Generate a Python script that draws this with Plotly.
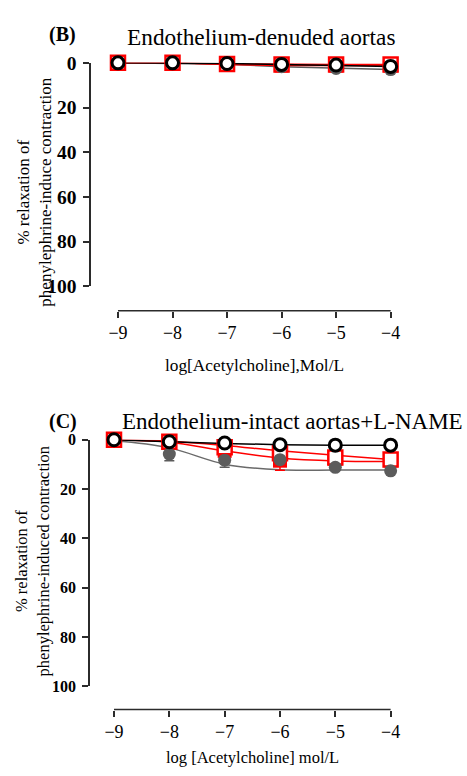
import plotly.graph_objects as go

# Acetylcholine concentrations (log mol/L)
conc = [-9, -8, -7, -6, -5, -4]
x_tick_vals = [-9, -8, -7, -6, -5, -4]
x_tick_text = ["\u22129", "\u22128", "\u22127", "\u22126", "\u22125", "\u22124"]
y_tick_vals = [0, 20, 40, 60, 80, 100]
y_tick_text = ["0", "20", "40", "60", "80", "100"]

# Panel B: endothelium-denuded aortas (% relaxation)
b_open_circle = [0, 0, 0.3, 0.7, 1.0, 1.6]
b_gray_circle = [0, 0.2, 0.6, 1.7, 2.5, 3.0]
b_red_open = [0, 0, 0.5, 0.8, 0.8, 0.8]
b_red_filled = [0, 0, 0.8, 1.2, 1.2, 1.2]

# Panel C: endothelium-intact aortas + L-NAME (% relaxation)
c_open_circle = [0, 0.8, 1.3, 2.0, 2.2, 2.2]
c_gray_circle = [0, 5.8, 8.3, 8.1, 11.2, 12.6]
c_gray_err = [0, 2.7, 2.9, 0, 0, 0]
c_red_open = [0, 0.8, 3.0, 5.5, 7.2, 8.0]
c_red_filled = [0, 1.2, 4.5, 8.5, 7.8, 8.4]
c_red_filled_err = [0, 0, 0, 3.9, 0, 0]

# Panel C: fitted concentration-response curves at each concentration
c_fit_open_circle = [0, 0.8, 1.5, 2.0, 2.2, 2.2]
c_fit_gray = [0.3, 3.3, 9.9, 12.2, 12.3, 12.3]
c_fit_red_open = [0, 0.6, 2.3, 4.5, 6.3, 8.0]
c_fit_red_filled = [0, 1.0, 4.5, 7.4, 8.6, 8.8]

W, H = 467, 776
SERIF = "Liberation Serif"
RED = "#ff0000"
GRAY = "#5c5c5c"
AXIS = "#2b2b2b"


def py(px):
    return 1 - px / H


def px_x(px):
    return px / W


fig = go.Figure()


def markers(xa, ya, y, symbol, fill, line_color, line_width, size, err=None, err_color=None):
    kw = {}
    if err is not None:
        kw["error_y"] = dict(type="data", symmetric=False, array=err,
                             arrayminus=[0] * len(err), color=err_color,
                             thickness=1.5, width=5)
    fig.add_trace(go.Scatter(
        x=conc, y=y, xaxis=xa, yaxis=ya, mode="markers", cliponaxis=False,
        marker=dict(symbol=symbol, size=size, color=fill,
                    line=dict(color=line_color, width=line_width)),
        showlegend=False, hoverinfo="skip", **kw))


def curve(xa, ya, y, color, shape="linear", width=1.5):
    fig.add_trace(go.Scatter(
        x=conc, y=y, xaxis=xa, yaxis=ya, mode="lines", cliponaxis=False,
        line=dict(color=color, width=width, shape=shape),
        showlegend=False, hoverinfo="skip"))


# ---- Panel B ----
curve("x", "y", b_gray_circle, GRAY)
curve("x", "y", b_red_filled, RED)
curve("x", "y", b_red_open, RED)
curve("x", "y", b_open_circle, "black")
markers("x", "y", b_red_filled, "square", RED, RED, 0, 14)
markers("x", "y", b_red_open, "square", "white", RED, 2.5, 14)
markers("x", "y", b_gray_circle, "circle", GRAY, GRAY, 0, 13)
markers("x", "y", b_open_circle, "circle", "white", "black", 3, 12)

# ---- Panel C ----
curve("x2", "y2", c_fit_gray, "#6a6a6a", "spline")
curve("x2", "y2", c_fit_red_filled, RED, "spline")
curve("x2", "y2", c_fit_red_open, RED, "spline")
curve("x2", "y2", c_fit_open_circle, "black", "spline")
markers("x2", "y2", c_red_filled, "square", RED, RED, 0, 14, c_red_filled_err, RED)
markers("x2", "y2", c_red_open, "square", "white", RED, 2.5, 14)
markers("x2", "y2", c_gray_circle, "circle", GRAY, GRAY, 0, 13, c_gray_err, GRAY)
markers("x2", "y2", c_open_circle, "circle", "white", "black", 3, 12)


def yaxis_cfg(top_px, bottom_px, size):
    return dict(
        domain=[py(bottom_px), py(top_px)], range=[100, 0], autorange=False,
        tickvals=y_tick_vals, ticktext=y_tick_text, ticks="outside",
        ticklen=6, tickwidth=1.5, tickcolor=AXIS, showline=True,
        linecolor=AXIS, linewidth=1.5, showgrid=False, zeroline=False,
        ticklabelstandoff=3,
        tickfont=dict(family=SERIF, size=size, color="black", weight="bold"),
    )


def xaxis_cfg(left_px, right_px, x9_px, x4_px, axis_y_px):
    unit = (x4_px - x9_px) / 5.0
    lo = -9 - (x9_px - left_px) / unit
    hi = -4 + (right_px - x4_px) / unit
    return dict(
        domain=[px_x(left_px), px_x(right_px)], range=[lo, hi], autorange=False,
        anchor="free", position=py(axis_y_px),
        tickvals=x_tick_vals, ticktext=x_tick_text, ticks="outside",
        ticklen=6, tickwidth=1.5, tickcolor=AXIS, showline=False,
        showgrid=False, zeroline=False,
        tickfont=dict(family=SERIF, size=18, color="black"),
    )


fig.update_layout(
    width=W, height=H, margin=dict(l=0, r=0, t=0, b=0),
    paper_bgcolor="white", plot_bgcolor="white",
    xaxis=xaxis_cfg(92, 400, 119, 394, 309),
    yaxis=yaxis_cfg(54.3, 284, 19.5),
    xaxis2=xaxis_cfg(90.7, 400, 115, 394, 719),
    yaxis2=yaxis_cfg(441.7, 695, 16),
)
fig.layout.yaxis.anchor = "x"
fig.layout.yaxis2.anchor = "x2"

# x-axis baselines spanning -9 to -4
for xref, ypx in (("x", 309), ("x2", 719)):
    fig.add_shape(type="line", xref=xref, yref="paper", x0=-9, x1=-4,
                  y0=py(ypx), y1=py(ypx), line=dict(color=AXIS, width=1.5))


def text(x, y, s, size, bold=False, angle=0):
    fig.add_annotation(x=px_x(x), y=py(y), xref="paper", yref="paper",
                       text=s, showarrow=False, textangle=angle,
                       xanchor="center", yanchor="middle",
                       font=dict(family=SERIF, size=size, color="black",
                                 weight="bold" if bold else "normal"))


text(63, 25, "(B)", 20, bold=True)
text(263, 28, "Endothelium-denuded aortas", 23.3)
text(257, 365, "log[Acetylcholine],Mol/L", 17.3)
text(35, 187, "% relaxation of<br>phenylephrine-induce contraction", 17, angle=-90)

text(64, 423, "(C)", 20, bold=True)
text(295, 423, "Endothelium-intact aortas+L-NAME", 23)
text(255, 768, "log [Acetylcholine] mol/L", 16.5)
text(32, 567, "% relaxation of<br>phenylephrine-induced contraction", 16.5, angle=-90)

fig.write_html("out.html")
